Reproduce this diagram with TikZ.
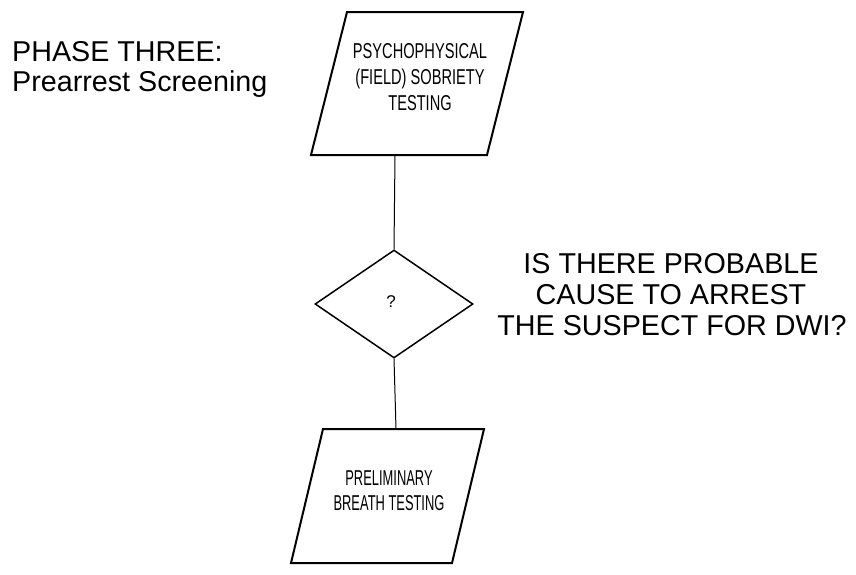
\documentclass[tikz,border=0pt]{standalone}
\usepackage{fontspec}
\setmainfont{Liberation Sans}
\newfontfamily\narrowA[FakeStretch=0.68]{Liberation Sans}
\newfontfamily\narrowB[FakeStretch=0.60]{Liberation Sans}
\usetikzlibrary{shapes.geometric}
\begin{document}
\begin{tikzpicture}[x=1pt,y=-1pt,
  boxline/.style={line width=2pt, line join=miter},
  conn/.style={line width=1pt},
  boxtextA/.style={font=\narrowA\fontsize{21.5}{26}\selectfont, anchor=base, inner sep=0pt},
  boxtextB/.style={font=\narrowB\fontsize{21.5}{26}\selectfont, anchor=base, inner sep=0pt},
  bigtext/.style={font=\fontsize{28.7}{31}\selectfont, inner sep=0pt},
  decision/.style={diamond, draw, line width=1.5pt, minimum width=158pt, minimum height=108pt, inner sep=0pt, font=\fontsize{17}{18}\selectfont}
]
\useasboundingbox (0,0) rectangle (856,574);
% top parallelogram
\draw[boxline] (347,12) -- (523,12) -- (487,155) -- (311,155) -- cycle;
\coordinate (p1b) at (395,155);
\node[boxtextA] (p1a) at (420,58) {PSYCHOPHYSICAL};
\node[boxtextA] (p1b2) at (420,84) {(FIELD) SOBRIETY};
\node[boxtextA] (p1c) at (420,110) {TESTING};
% decision
\node[decision] (d) at (394,304) {};
\node[font=\fontsize{17}{18}\selectfont, inner sep=0pt] (qm) at (391,302) {?};
% bottom parallelogram
\draw[boxline] (323,429) -- (484,429) -- (452,563) -- (291,563) -- cycle;
\coordinate (p2t) at (396,429);
\node[boxtextB] (p2a) at (389,485) {PRELIMINARY};
\node[boxtextB] (p2b) at (389,510) {BREATH TESTING};
% connectors
\draw[conn] (p1b) -- (d.north);
\draw[conn] (d.south) -- (p2t);
% labels
\node[bigtext, anchor=base west] (phase1) at (12,61) {PHASE THREE:};
\node[bigtext, anchor=base west] (phase2) at (12,91) {Prearrest Screening};
\node[bigtext, anchor=base] (q1) at (671,273) {IS THERE PROBABLE};
\node[bigtext, anchor=base] (q2) at (671,304) {CAUSE TO ARREST};
\node[bigtext, anchor=base] (q3) at (672,335) {THE SUSPECT FOR DWI?};
\end{tikzpicture}
\end{document}
